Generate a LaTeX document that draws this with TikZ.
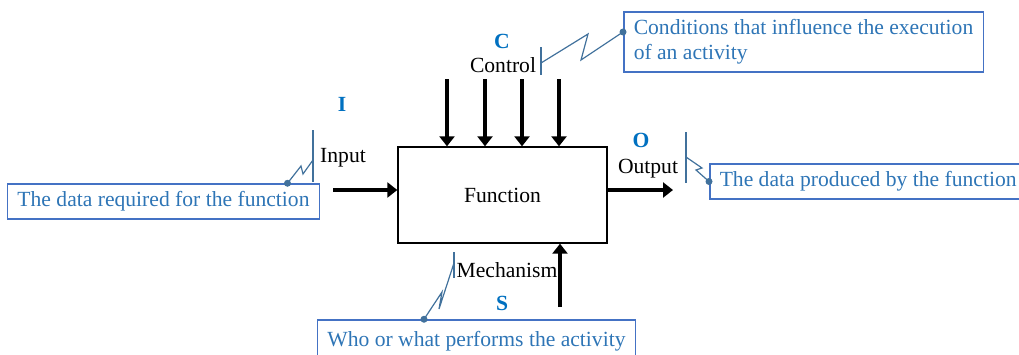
\documentclass[tikz,border=0pt]{standalone}
\usepackage{fontspec}
\setmainfont{Liberation Serif}
\usetikzlibrary{arrows.meta}
\definecolor{noteblue}{RGB}{46,117,182}
\definecolor{frameblue}{RGB}{68,114,196}
\definecolor{leadblue}{RGB}{65,113,156}
\definecolor{tagblue}{RGB}{0,112,192}

\begin{document}
\begin{tikzpicture}[x=1pt, y=-1pt,
  every node/.style={font=\fontsize{21.6}{25}\selectfont, inner sep=0pt},
  fbox/.style={draw, line width=1.4pt, minimum width=209pt, minimum height=96pt},
  note/.style={draw=frameblue, line width=1.5pt, text=noteblue, minimum height=35pt, inner xsep=10pt},
  arrow/.style={-{Triangle[length=10pt, width=15pt]}, line width=3.2pt},
  lead/.style={draw=leadblue, line width=1.2pt},
  tag/.style={text=tagblue, font=\fontsize{21.6}{25}\selectfont\bfseries}
]
\useasboundingbox (0,0) rectangle (1019,354);

\node[fbox] (fn) at (502.5,195) {Function};

\coordinate (in0) at (333,190);
\draw[arrow] (in0) -- (in0 -| fn.west);
\coordinate (out1) at (673,190);
\draw[arrow] (out1 -| fn.east) -- (out1);
\foreach \x [count=\i] in {447,485,522,559} {
  \coordinate (c\i) at (\x,79);
  \draw[arrow] (c\i) -- (c\i |- fn.north);
}
\coordinate (m0) at (560,307);
\draw[arrow] (m0) -- (m0 |- fn.south);

\node (lin) at (343,158) {Input};
\node[tag] (tI) at (342,104) {I};
\node (lctl) at (503,65) {Control};
\node[tag] (tC) at (502,41) {C};
\node (lout) at (648,169) {Output};
\node[tag] (tO) at (641,140) {O};
\node (lmech) at (507,270) {Mechanism};
\node[tag] (tS) at (502,303) {S};

\node[note] (inbox) at (163.5,201.5) {The data required for the function};
\node[note, align=left, minimum height=60pt, anchor=west] (ctlbox) at (623,42)
  {Conditions that influence the execution\\of an activity};
\node[note, anchor=west] (outbox) at (709,181.5) {The data produced by the function};
\node[note, minimum height=42pt] (mechbox) at (476.5,341) {Who or what performs the activity};

\coordinate (dI) at ([xshift=124pt]inbox.north);
\coordinate (dC) at ([yshift=10pt]ctlbox.west);
\coordinate (dO) at (outbox.west);
\coordinate (dM) at ([xshift=-52.5pt]mechbox.north);

\draw[lead] (313,130) -- (313,182);
\coordinate (kI) at (313,160);
\draw[lead] (kI) -- ++(-10,14) -- ++(-2,-8) -- (dI);
\draw[lead] (541,47) -- (541,75);
\coordinate (kC) at (541,63);
\draw[lead] (kC) -- ++(47,-29) -- ++(-7,26) -- (dC);
\draw[lead] (686,132) -- (686,183);
\coordinate (kO) at (686,157);
\draw[lead] (kO) -- ++(16,11) -- ++(-6,2) -- (dO);
\draw[lead] (454,252) -- (454,278);
\coordinate (kM) at (454,263);
\draw[lead] (kM) -- ++(-15,46) -- ++(3,-17) -- (dM);

\foreach \d in {dI,dC,dO,dM}
  \fill[leadblue] (\d) circle (3.5pt);
\end{tikzpicture}
\end{document}
